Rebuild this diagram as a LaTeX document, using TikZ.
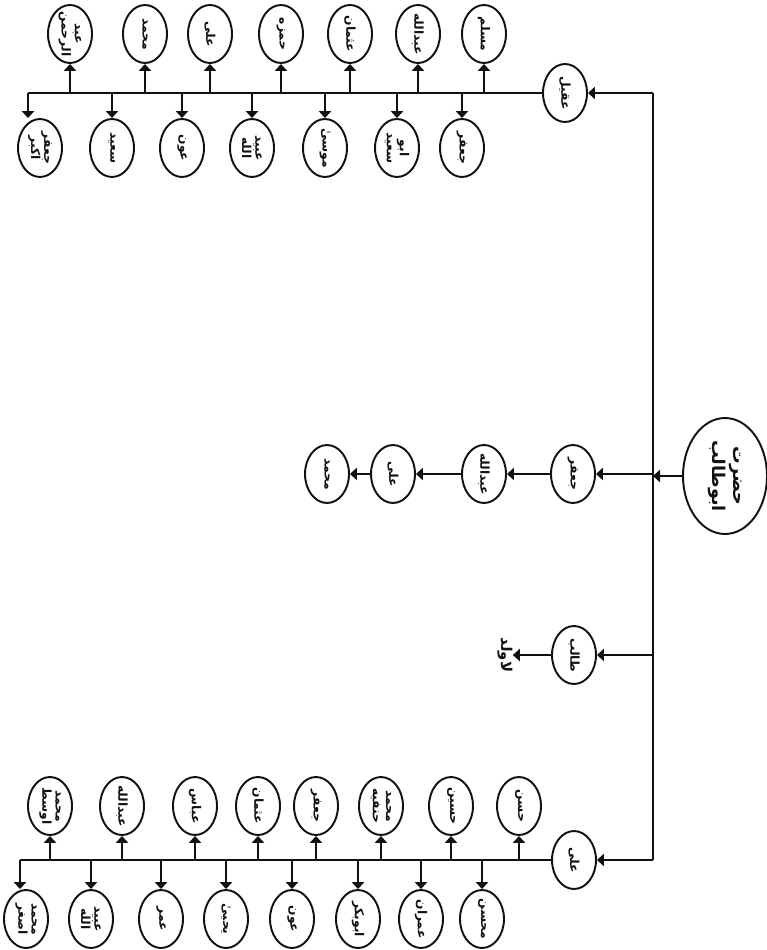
\documentclass[tikz,border=0pt]{standalone}
\usepackage{fontspec}
\usepackage{tikz}
\usetikzlibrary{arrows.meta,shapes.geometric}
\TeXXeTstate=1
\newfontfamily\urdufont[Script=Arabic]{DejaVu Sans}
\definecolor{ink}{HTML}{111111}
\tikzset{
  kin/.style={draw=ink, ellipse, line width=1.1pt, inner sep=0pt,
    minimum width=0.88cm, minimum height=1.16cm},
  elder/.style={kin, minimum width=1.68cm, minimum height=2.32cm},
  nm/.style={font={\urdufont\bfseries\fontsize{7}{7.5}\selectfont}, rotate=-90,
    inner sep=0pt, align=center, text=ink},
  nmbig/.style={nm, font={\urdufont\bfseries\fontsize{10}{12}\selectfont}},
  link/.style={draw=ink, line width=1pt, -{Triangle[width=7pt,length=4pt]}},
  bar/.style={draw=ink, line width=1pt}
}
% one name in an oval
\newcommand{\Son}[4]{%
  \node[kin] (#1) at (#2,#3) {};
  \node[nm] (#1T) at (#1) {#4};
}
% a child hanging off a branch line
\newcommand{\Kin}[5]{%
  \Son{#1}{#2}{#3}{#5}
  \draw[link] (#1 |- #4) -- (#1);
}

\begin{document}
\begin{tikzpicture}[x=0.02cm, y=-0.02cm]
  \useasboundingbox (0,0) rectangle (767,950);

  % root and trunk
  \node[elder] (root) at (725,476) {};
  \node[nmbig] (rootT) at (root) {\beginR حضرت\endR\\\beginR ابوطالب\endR};
  \coordinate (trunkTop) at (653,93);
  \coordinate (trunkBot) at (653,860);
  \draw[bar] (trunkTop) -- (trunkBot);
  \draw[link] (root) -- (trunkTop |- root);

  % sons
  \Son{aqil}{565}{93}{\beginR عقیل\endR}
  \Son{jafar}{573}{474}{\beginR جعفر\endR}
  \Son{talib}{574}{655}{\beginR طالب\endR}
  \Son{ali}{574}{860}{\beginR علی\endR}
  \draw[link] (trunkTop) -- (aqil);
  \draw[link] (trunkTop |- jafar) -- (jafar);
  \draw[link] (trunkTop |- talib) -- (talib);
  \draw[link] (trunkBot) -- (ali);

  % talib
  \node[nm, font={\urdufont\bfseries\fontsize{8.5}{9}\selectfont}] (talibNote) at (505,655) {\beginR لاولد\endR};
  \draw[link] (talib) -- (talibNote);

  % jafar line
  \Son{jfrA}{484}{474}{\beginR عبدالله\endR}
  \Son{jfrB}{393}{474}{\beginR علی\endR}
  \Son{jfrC}{327}{474}{\beginR محمد\endR}
  \draw[link] (jafar) -- (jfrA);
  \draw[link] (jfrA) -- (jfrB);
  \draw[link] (jfrB) -- (jfrC);

  % aqil branch
  \coordinate (aqilEnd) at (28,93);
  \draw[bar] (aqil) -- (aqilEnd);
  \Kin{aqU1}{70}{34}{aqilEnd}{\beginR عبد\endR\\\beginR الرحمن\endR}
  \Kin{aqU2}{145}{34}{aqilEnd}{\beginR محمد\endR}
  \Kin{aqU3}{210}{34}{aqilEnd}{\beginR علی\endR}
  \Kin{aqU4}{281}{34}{aqilEnd}{\beginR حمزه\endR}
  \Kin{aqU5}{350}{34}{aqilEnd}{\beginR عثمان\endR}
  \Kin{aqU6}{418}{34}{aqilEnd}{\beginR عبدالله\endR}
  \Kin{aqU7}{484}{34}{aqilEnd}{\beginR مسلم\endR}
  \Son{aqD1}{40}{148}{\beginR جعفر\endR\\\beginR اکبر\endR}
  \draw[link] (aqilEnd) -- (aqilEnd |- aqD1.north);
  \Kin{aqD2}{112}{148}{aqilEnd}{\beginR سعید\endR}
  \Kin{aqD3}{182}{148}{aqilEnd}{\beginR عون\endR}
  \Kin{aqD4}{252}{148}{aqilEnd}{\beginR عبید\endR\\\beginR الله\endR}
  \Kin{aqD5}{325}{148}{aqilEnd}{\beginR موسیٰ\endR}
  \Kin{aqD6}{397}{148}{aqilEnd}{\beginR ابو\endR\\\beginR سعید\endR}
  \Kin{aqD7}{462}{148}{aqilEnd}{\beginR جعفر\endR}

  % ali branch
  \coordinate (aliEnd) at (20,860);
  \draw[bar] (ali) -- (aliEnd);
  \Kin{alU1}{50}{806}{aliEnd}{\beginR محمد\endR\\\beginR اوسط\endR}
  \Kin{alU2}{122}{806}{aliEnd}{\beginR عبدالله\endR}
  \Kin{alU3}{195}{806}{aliEnd}{\beginR عباس\endR}
  \Kin{alU4}{258}{806}{aliEnd}{\beginR عثمان\endR}
  \Kin{alU5}{316}{806}{aliEnd}{\beginR جعفر\endR}
  \Kin{alU6}{381}{806}{aliEnd}{\beginR محمد\endR\\\beginR حنفیه\endR}
  \Kin{alU7}{451}{806}{aliEnd}{\beginR حسین\endR}
  \Kin{alU8}{519}{806}{aliEnd}{\beginR حسن\endR}
  \Son{alD1}{26}{919}{\beginR محمد\endR\\\beginR اصغر\endR}
  \draw[link] (aliEnd) -- (aliEnd |- alD1.north);
  \Kin{alD2}{91}{919}{aliEnd}{\beginR عبید\endR\\\beginR الله\endR}
  \Kin{alD3}{161}{919}{aliEnd}{\beginR عمر\endR}
  \Kin{alD4}{226}{919}{aliEnd}{\beginR یحییٰ\endR}
  \Kin{alD5}{292}{919}{aliEnd}{\beginR عون\endR}
  \Kin{alD6}{358}{919}{aliEnd}{\beginR ابوبکر\endR}
  \Kin{alD7}{421}{919}{aliEnd}{\beginR عمران\endR}
  \Kin{alD8}{482}{919}{aliEnd}{\beginR محسن\endR}
\end{tikzpicture}
\end{document}
